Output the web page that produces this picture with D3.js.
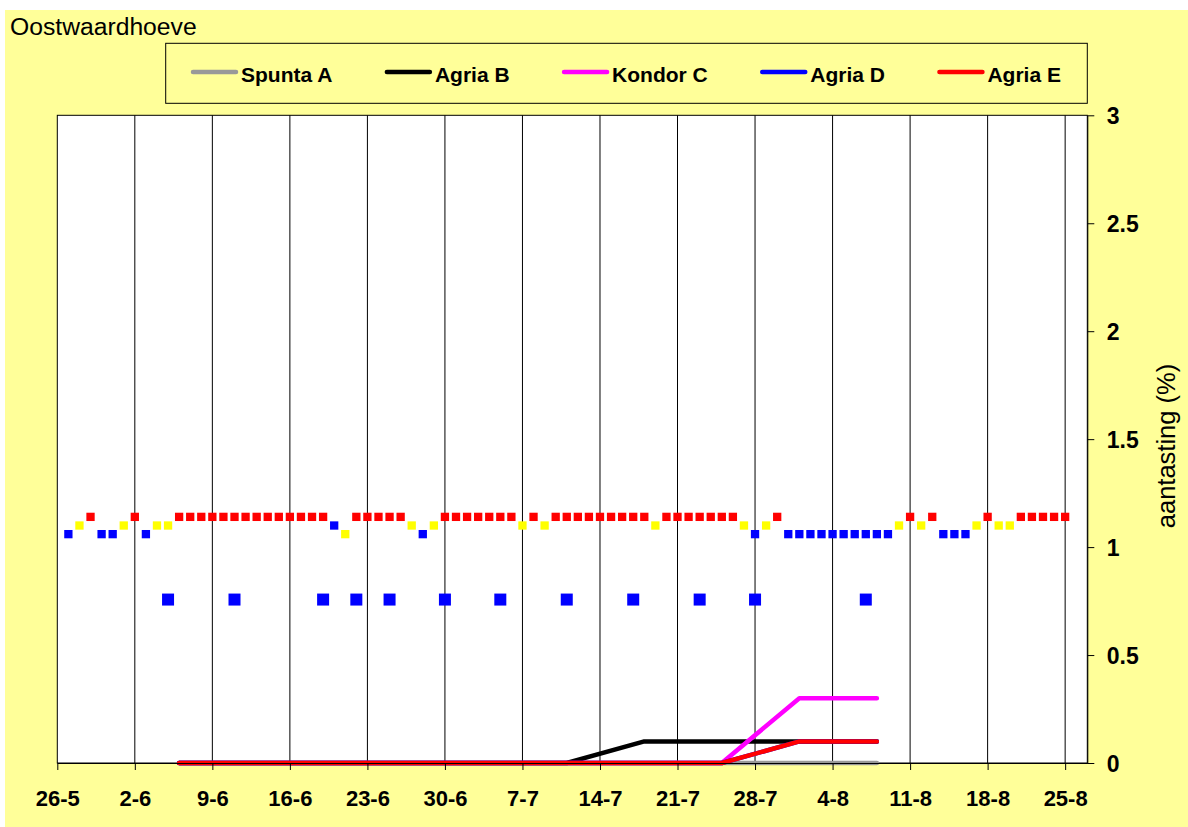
<!DOCTYPE html>
<html>
<head>
<meta charset="utf-8">
<script src="https://cdn.jsdelivr.net/npm/d3@7"></script>
<style>
  html, body { margin: 0; padding: 0; background: #ffffff; }
  svg { display: block; font-family: "Liberation Sans", Arial, sans-serif; }
</style>
</head>
<body>
<svg id="chart" width="1188" height="827"></svg>
<script>
// ---------------- DATA ----------------
const title = "Oostwaardhoeve";
const yLabel = "aantasting (%)";

// series (weekly observations)
const seriesNames = ["Spunta A", "Agria B", "Kondor C", "Agria D", "Agria E"];
const seriesColors = ["#999999", "#000000", "#FF00FF", "#0000FF", "#FF0000"];
const obsDates = ["6-6", "13-6", "20-6", "27-6", "4-7", "11-7", "18-7", "25-7", "1-8", "8-8"];
const spuntaA = [0, 0, 0, 0, 0, 0, 0, 0, 0, 0];
const agriaB  = [0, 0, 0, 0, 0, 0, 0.1, 0.1, 0.1, 0.1];
const kondorC = [0, 0, 0, 0, 0, 0, 0, 0, 0.3, 0.3];
const agriaD  = [0, 0, 0, 0, 0, 0, 0, 0, 0.1, 0.1];
const agriaE  = [0, 0, 0, 0, 0, 0, 0, 0, 0.1, 0.1];

// daily risk markers from 27-5 to 25-8 (R = red, Y = yellow, B = blue)
const riskStart = "27-5";
const riskColour = [
  "B","Y","R","B","B","Y","R","B","Y","Y",
  "R","R","R","R","R","R","R","R","R","R","R","R","R","R",
  "B","Y","R","R","R","R","R","Y","B","Y",
  "R","R","R","R","R","R","R","Y","R","Y",
  "R","R","R","R","R","R","R","R","R","Y",
  "R","R","R","R","R","R","R","Y","B","Y","R",
  "B","B","B","B","B","B","B","B","B","B",
  "Y","R","Y","R","B","B","B","Y","R","Y","Y",
  "R","R","R","R","R"
];
const riskLevel = [
  1.06,1.10,1.14,1.06,1.06,1.10,1.14,1.06,1.10,1.10,
  1.14,1.14,1.14,1.14,1.14,1.14,1.14,1.14,1.14,1.14,1.14,1.14,1.14,1.14,
  1.10,1.06,1.14,1.14,1.14,1.14,1.14,1.10,1.06,1.10,
  1.14,1.14,1.14,1.14,1.14,1.14,1.14,1.10,1.14,1.10,
  1.14,1.14,1.14,1.14,1.14,1.14,1.14,1.14,1.14,1.10,
  1.14,1.14,1.14,1.14,1.14,1.14,1.14,1.10,1.06,1.10,1.14,
  1.06,1.06,1.06,1.06,1.06,1.06,1.06,1.06,1.06,1.06,
  1.10,1.14,1.10,1.14,1.06,1.06,1.06,1.10,1.14,1.10,1.10,
  1.14,1.14,1.14,1.14,1.14
];
const riskColourMap = { R: "#FF0000", Y: "#FFFF00", B: "#0000FF" };

// spray dates (large blue squares)
const sprayDates = ["5-6", "11-6", "19-6", "22-6", "25-6", "30-6", "5-7", "11-7", "17-7", "23-7", "28-7", "7-8"];
const sprayLevel = 0.757;

// axes
const xStart = "26-5", xEnd = "27-8";
const xTickLabels = ["26-5", "2-6", "9-6", "16-6", "23-6", "30-6", "7-7", "14-7", "21-7", "28-7", "4-8", "11-8", "18-8", "25-8"];
const yTicks = [0, 0.5, 1, 1.5, 2, 2.5, 3];

// ---------------- HELPERS ----------------
const YEAR = 2006;
const parseDM = s => { const [d, m] = s.split("-").map(Number); return new Date(YEAR, m - 1, d); };

const svg = d3.select("#chart");
const W = 1188, H = 827;
const plot = { left: 57.3, right: 1087.3, top: 115.3, bottom: 763 };

const x = d3.scaleTime().domain([parseDM(xStart), parseDM(xEnd)]).range([plot.left, plot.right]);
const y = d3.scaleLinear().domain([0, 3]).range([plot.bottom, plot.top]);

// chart background
svg.append("rect").attr("x", 5).attr("y", 10).attr("width", W - 5).attr("height", H - 10).attr("fill", "#FFFF99");

// title
svg.append("text").attr("x", 10).attr("y", 35).attr("font-size", 24.7).attr("fill", "#000").text(title);

// plot area
svg.append("rect")
  .attr("x", plot.left).attr("y", plot.top)
  .attr("width", plot.right - plot.left).attr("height", plot.bottom - plot.top)
  .attr("fill", "#ffffff").attr("stroke", "#000").attr("stroke-width", 1);

// vertical gridlines
const tickDates = xTickLabels.map(parseDM);
svg.append("g").selectAll("line").data(tickDates.slice(1)).join("line")
  .attr("x1", d => x(d)).attr("x2", d => x(d))
  .attr("y1", plot.top).attr("y2", plot.bottom)
  .attr("stroke", "#000").attr("stroke-width", 1);

// daily risk markers
const day0 = parseDM(riskStart);
const riskData = riskColour.map((c, i) => ({ date: d3.timeDay.offset(day0, i), colour: c, level: riskLevel[i] }));
const sSmall = 8.3;
svg.append("g").selectAll("rect").data(riskData).join("rect")
  .attr("x", d => x(d.date) - sSmall / 2).attr("y", d => y(d.level) - sSmall / 2)
  .attr("width", sSmall).attr("height", sSmall)
  .attr("fill", d => riskColourMap[d.colour]);

// spray markers
const sBig = 12;
svg.append("g").selectAll("rect").data(sprayDates.map(parseDM)).join("rect")
  .attr("x", d => x(d) - sBig / 2).attr("y", y(sprayLevel) - sBig / 2)
  .attr("width", sBig).attr("height", sBig)
  .attr("fill", "#0000FF");

// series lines
const seriesValues = [spuntaA, agriaB, kondorC, agriaD, agriaE];
const obs = obsDates.map(parseDM);
const line = d3.line().x(d => x(d.date)).y(d => y(d.v));
seriesValues.forEach((vals, i) => {
  svg.append("path")
    .datum(vals.map((v, j) => ({ date: obs[j], v })))
    .attr("d", line)
    .attr("fill", "none")
    .attr("stroke", seriesColors[i])
    .attr("stroke-width", 4.5)
    .attr("stroke-linecap", "round")
    .attr("stroke-linejoin", "round");
});

// x axis
const xAxis = d3.axisBottom(x).tickValues(tickDates).tickFormat((d, i) => xTickLabels[i]).tickSize(7).tickSizeOuter(0);
const gx = svg.append("g").attr("transform", `translate(0,${plot.bottom})`).call(xAxis);
gx.select(".domain").attr("stroke", "#000");
gx.selectAll(".tick line").attr("stroke", "#000");
gx.selectAll(".tick text").attr("dy", null).attr("y", 43)
  .attr("font-size", 22).attr("font-weight", "bold").attr("fill", "#000")
  .attr("font-family", "'Liberation Sans', Arial, sans-serif");

// y axis (right)
const yAxis = d3.axisRight(y).tickValues(yTicks).tickFormat(d3.format("~g")).tickSize(7).tickSizeOuter(0);
const gy = svg.append("g").attr("transform", `translate(${plot.right},0)`).call(yAxis);
gy.select(".domain").attr("stroke", "#000");
gy.selectAll(".tick line").attr("stroke", "#000");
gy.selectAll(".tick text").attr("x", 19.5).attr("dy", "0.36em")
  .attr("font-size", 23).attr("font-weight", "bold").attr("fill", "#000")
  .attr("font-family", "'Liberation Sans', Arial, sans-serif");

// y label
svg.append("text")
  .attr("transform", `translate(1175,446) rotate(-90)`)
  .attr("text-anchor", "middle").attr("font-size", 25.5).attr("fill", "#000")
  .text(yLabel);

// legend
const legend = { x: 165.7, y: 43.3, w: 1087.3 - 165.7, h: 60 };
svg.append("rect").attr("x", legend.x).attr("y", legend.y).attr("width", legend.w).attr("height", legend.h)
  .attr("fill", "#FFFF99").attr("stroke", "#000").attr("stroke-width", 1);
let lx = 193;
const ly = 72;
seriesNames.forEach((name, i) => {
  const g = svg.append("g");
  g.append("line").attr("x1", lx).attr("x2", lx + 43).attr("y1", ly).attr("y2", ly)
    .attr("stroke", seriesColors[i]).attr("stroke-width", 4.5).attr("stroke-linecap", "round");
  const t = g.append("text").attr("x", lx + 48).attr("y", 81.7)
    .attr("font-size", 21).attr("font-weight", "bold").attr("fill", "#000").text(name);
  lx = lx + 48 + t.node().getComputedTextLength() + 54.5;
});
</script>
</body>
</html>
